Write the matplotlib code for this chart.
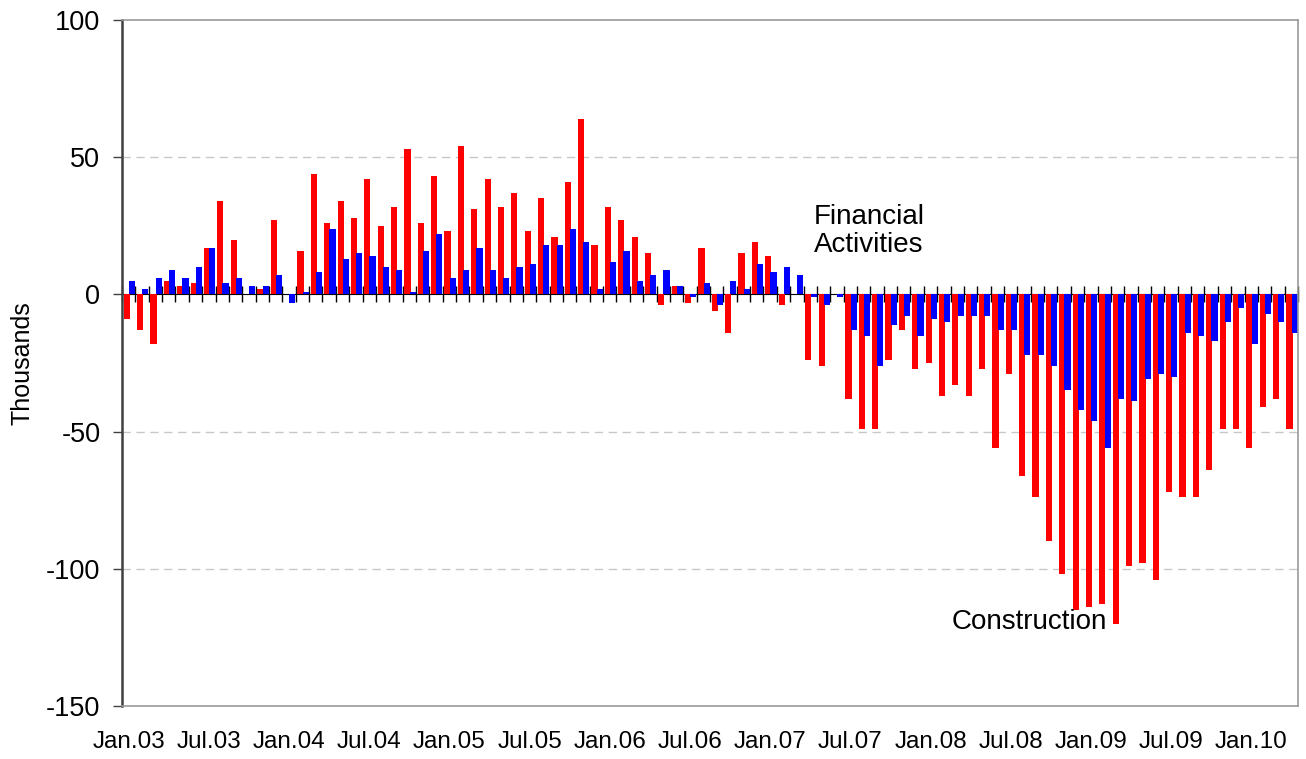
import numpy as np
import matplotlib
matplotlib.use('Agg')
import matplotlib.pyplot as plt

plt.rcParams['font.family'] = ['Liberation Sans', 'DejaVu Sans']
plt.rcParams['axes.unicode_minus'] = False

# monthly job changes, Jan.03 .. Apr.10 (thousands)
construction = [
    -9, -13, -18, 5, 3, 4, 17, 34, 20, 0, 2, 27,
    0, 16, 44, 26, 34, 28, 42, 25, 32, 53, 26, 43,
    23, 54, 31, 42, 32, 37, 23, 35, 21, 41, 64, 18,
    32, 27, 21, 15, -4, 3, -3, 17, -6, -14, 15, 19,
    14, -4, 0, -24, -26, 0, -38, -49, -49, -24, -13, -27,
    -25, -37, -33, -37, -27, -56, -29, -66, -74, -90, -102, -115,
    -114, -113, -120, -99, -98, -104, -72, -74, -74, -64, -49, -49,
    -56, -41, -38, -49]
financial = [
    5, 2, 6, 9, 6, 10, 17, 4, 6, 3, 3, 7,
    -3, 1, 8, 24, 13, 15, 14, 10, 9, 1, 16, 22,
    6, 9, 17, 9, 6, 10, 11, 18, 18, 24, 19, 2,
    12, 16, 5, 7, 9, 3, -1, 4, -4, 5, 2, 11,
    8, 10, 7, -1, -4, -1, -13, -15, -26, -11, -8, -15,
    -9, -10, -8, -8, -8, -13, -13, -22, -22, -26, -35, -42,
    -46, -56, -38, -39, -31, -29, -30, -14, -15, -17, -10, -5,
    -18, -7, -10, -14]
tick_labels = ['Jan.03', 'Jul.03', 'Jan.04', 'Jul.04', 'Jan.05', 'Jul.05',
               'Jan.06', 'Jul.06', 'Jan.07', 'Jul.07', 'Jan.08', 'Jul.08',
               'Jan.09', 'Jul.09', 'Jan.10']

x = np.arange(len(construction))
ymin, ymax = -150, 100

fig = plt.figure(figsize=(13.06, 7.59), dpi=100)
ax = fig.add_axes([0.0934, 0.0698, 0.9005, 0.9038])

ax.bar(x - 0.14, construction, width=0.46, color='#ff0000', zorder=2)
ax.bar(x + 0.25, financial, width=0.46, color='#0000ff', zorder=2)

ax.set_xlim(-0.5, len(x) - 0.5)
ax.set_ylim(ymin, ymax)
ax.set_yticks([100, 50, 0, -50, -100, -150])
ax.tick_params(axis='y', direction='out', length=6.5, width=1,
               color='#404040', labelsize=19.5, pad=9)
ax.set_xticks(x[::6])
ax.set_xticklabels(tick_labels)
ax.tick_params(axis='x', length=0, labelsize=17.5, pad=18)
ax.set_ylabel('Thousands', fontsize=18, labelpad=8)

for v in [50, -50, -100]:
    ax.axhline(v, color='#c8c8c8', lw=1, ls=(0, (6, 4)), zorder=1)

for side in ['top', 'right', 'bottom']:
    ax.spines[side].set_color('#999999')
    ax.spines[side].set_linewidth(1.2)
ax.spines['left'].set_color('#404040')
ax.spines['left'].set_linewidth(1.8)

# category axis crossing at zero, with a tick between each month
zero = ax.secondary_xaxis((0 - ymin) / (ymax - ymin))
zero.set_xticks(np.arange(-0.5, len(x)))
zero.set_xticklabels([])
zero.tick_params(direction='inout', length=12, width=1, color='black')
zero.spines['bottom'].set_color('black')
zero.spines['bottom'].set_linewidth(1.3)

ax.text(51.3, 23, 'Financial\nActivities', fontsize=20,
        ha='left', va='center', linespacing=1.1)
ax.text(67.4, -119.5, 'Construction', fontsize=20,
        ha='center', va='center')

plt.savefig('out.png', dpi=100)
plt.close(fig)
